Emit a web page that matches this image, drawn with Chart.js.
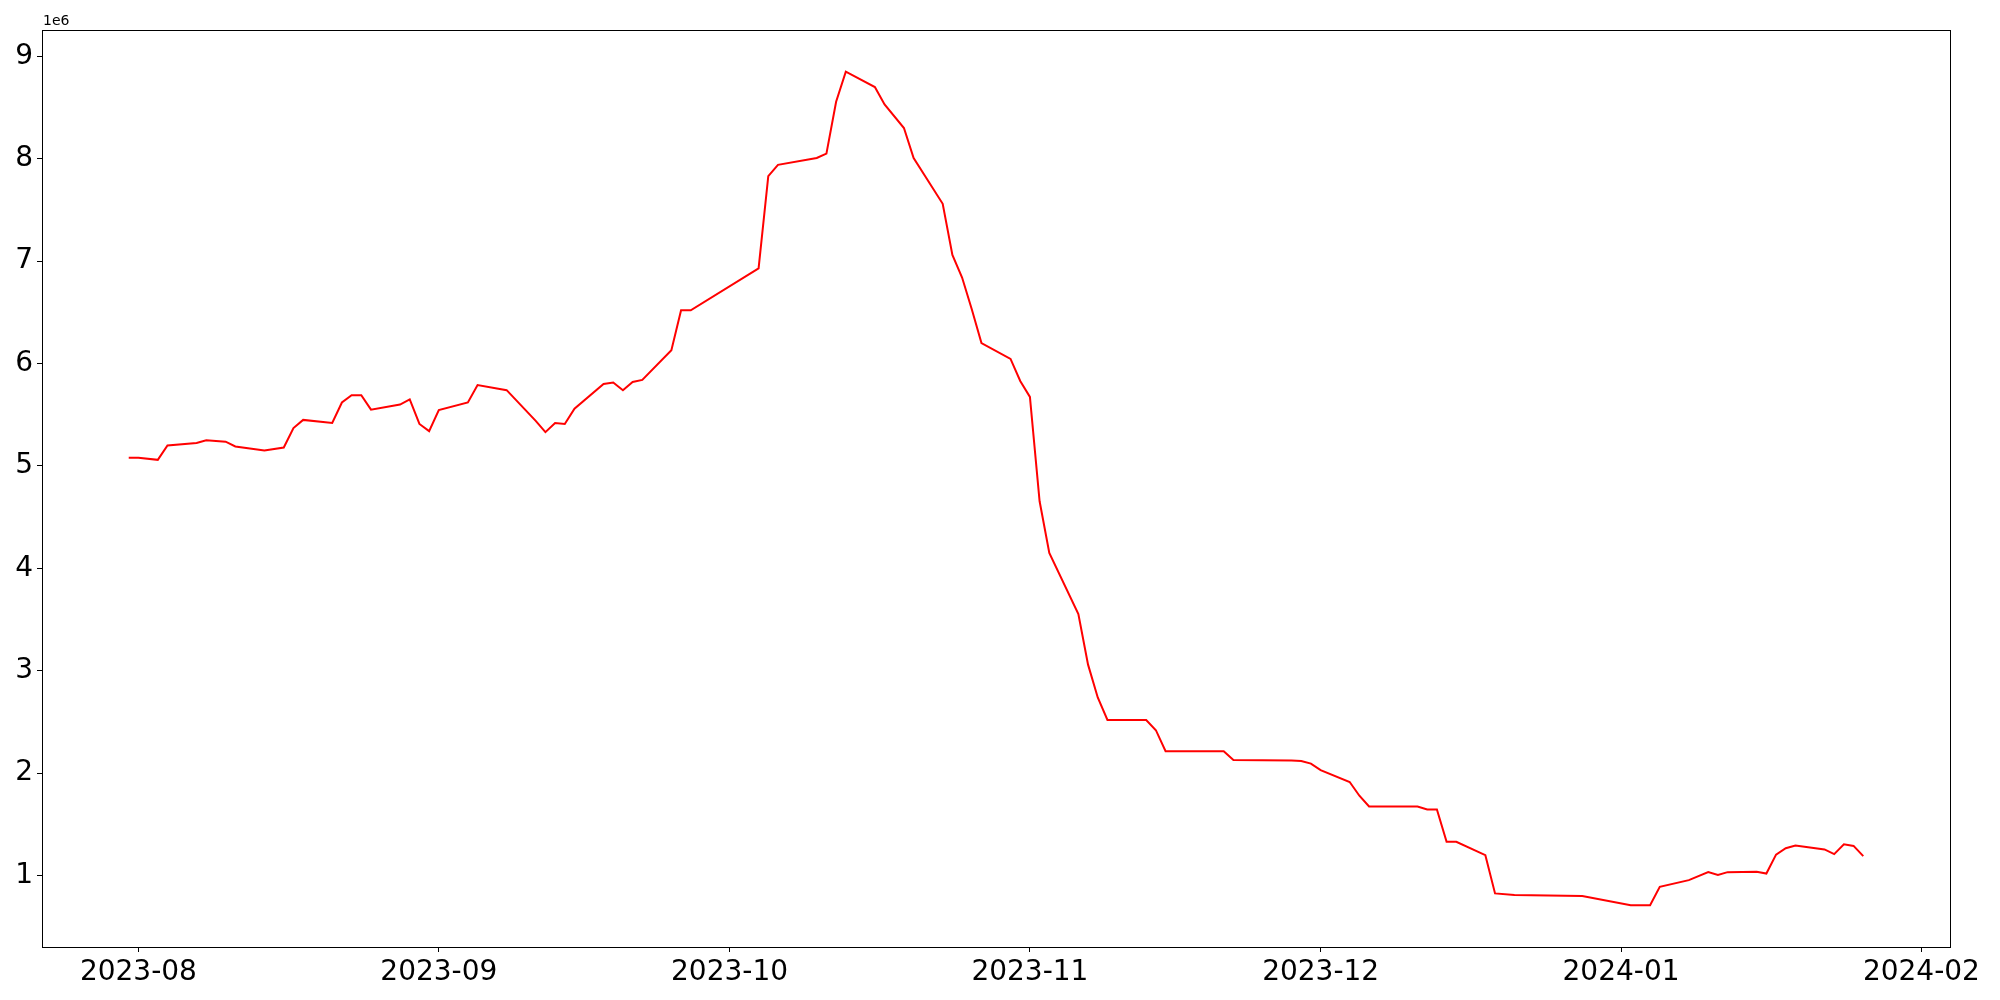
<!DOCTYPE html>
<html>
<head>
<meta charset="utf-8">
<script src="https://cdn.jsdelivr.net/npm/chart.js@4/dist/chart.umd.min.js"></script>
<style>
    html, body { margin: 0; padding: 0; background: #fff; }
    #wrap { position: relative; width: 2000px; height: 1000px; }
    #offset { position: absolute; left: 43px; top: 12px; font: 14px 'DejaVu Sans', sans-serif; color: #000; }
</style>
</head>
<body>
<div id="wrap">
    <canvas id="lineChart" width="2000" height="1000"></canvas>
    <div id="offset">1e6</div>
</div>
<script>
const dates = [
    '2023-07-31', '2023-08-01', '2023-08-03', '2023-08-04', '2023-08-07', '2023-08-08', '2023-08-10', '2023-08-11',
    '2023-08-14', '2023-08-16', '2023-08-17', '2023-08-18', '2023-08-21', '2023-08-22', '2023-08-23', '2023-08-24',
    '2023-08-25', '2023-08-28', '2023-08-29', '2023-08-30', '2023-08-31', '2023-09-01', '2023-09-04', '2023-09-05',
    '2023-09-08', '2023-09-11', '2023-09-12', '2023-09-13', '2023-09-14', '2023-09-15', '2023-09-18', '2023-09-19',
    '2023-09-20', '2023-09-21', '2023-09-22', '2023-09-25', '2023-09-26', '2023-09-27', '2023-10-04', '2023-10-05',
    '2023-10-06', '2023-10-10', '2023-10-11', '2023-10-12', '2023-10-13', '2023-10-16', '2023-10-17', '2023-10-19',
    '2023-10-20', '2023-10-23', '2023-10-24', '2023-10-25', '2023-10-26', '2023-10-27', '2023-10-30', '2023-10-31',
    '2023-11-01', '2023-11-02', '2023-11-03', '2023-11-06', '2023-11-07', '2023-11-08', '2023-11-09', '2023-11-13',
    '2023-11-14', '2023-11-15', '2023-11-21', '2023-11-22', '2023-11-28', '2023-11-29', '2023-11-30', '2023-12-01',
    '2023-12-04', '2023-12-05', '2023-12-06', '2023-12-11', '2023-12-12', '2023-12-13', '2023-12-14', '2023-12-15',
    '2023-12-18', '2023-12-19', '2023-12-21', '2023-12-28', '2024-01-02', '2024-01-04', '2024-01-05', '2024-01-08',
    '2024-01-10', '2024-01-11', '2024-01-12', '2024-01-15', '2024-01-16', '2024-01-17', '2024-01-18', '2024-01-19',
    '2024-01-22', '2024-01-23', '2024-01-24', '2024-01-25', '2024-01-26'
];
const values = [
    5080000, 5080000, 5060000, 5200000, 5225000, 5250000, 5237000, 5190000,
    5150000, 5180000, 5370000, 5450000, 5420000, 5620000, 5690000, 5690000,
    5550000, 5600000, 5650000, 5410000, 5340000, 5545000, 5620000, 5790000,
    5740000, 5440000, 5330000, 5420000, 5410000, 5560000, 5800000, 5815000,
    5740000, 5820000, 5840000, 6130000, 6520000, 6520000, 6930000, 7830000,
    7940000, 8007000, 8050000, 8556000, 8850000, 8700000, 8530000, 8300000,
    8007000, 7560000, 7060000, 6840000, 6530000, 6200000, 6045000, 5830000,
    5674000, 4655000, 4150000, 3554000, 3060000, 2740000, 2520000, 2520000,
    2420000, 2214000, 2214000, 2128000, 2125000, 2120000, 2094000, 2030000,
    1914000, 1780000, 1675000, 1675000, 1645000, 1645000, 1330000, 1330000,
    1200000, 826000, 810000, 800000, 710000, 710000, 890000, 956000,
    1034000, 1007000, 1034000, 1037000, 1020000, 1205000, 1267000, 1293000,
    1256000, 1210000, 1305000, 1290000, 1190000
];
const monthTicks = ['2023-08', '2023-09', '2023-10', '2023-11', '2023-12', '2024-01', '2024-02'];
const yTicks = [1, 2, 3, 4, 5, 6, 7, 8, 9];

function toDay(s) {
    const p = s.split('-').map(Number);
    return Date.UTC(p[0], p[1] - 1, p[2] || 1) / 86400000;
}

const xs = dates.map(toDay);
const points = xs.map((x, i) => ({ x: x, y: values[i] }));

// matplotlib style 5% margins
const xMinD = Math.min(...xs), xMaxD = Math.max(...xs);
const yMinD = Math.min(...values), yMaxD = Math.max(...values);
const xPad = (xMaxD - xMinD) * 0.05, yPad = (yMaxD - yMinD) * 0.05;

const tickFont = { family: 'DejaVu Sans', size: 28 };

const frame = {
    id: 'frame',
    afterDraw(chart) {
        const a = chart.chartArea, c = chart.ctx;
        c.save();
        c.strokeStyle = '#000';
        c.lineWidth = 1;
        c.strokeRect(Math.round(a.left) + 0.5, Math.round(a.top) + 0.5, Math.round(a.right - a.left), Math.round(a.bottom - a.top));
        c.restore();
    }
};

new Chart(document.getElementById('lineChart').getContext('2d'), {
    type: 'line',
    data: {
        datasets: [{
            data: points,
            borderColor: '#ff0000',
            borderWidth: 2,
            pointRadius: 0,
            tension: 0,
            fill: false
        }]
    },
    options: {
        responsive: false,
        animation: false,
        devicePixelRatio: 1,
        layout: { padding: { top: 30, right: 50, left: 0, bottom: 0 } },
        plugins: { legend: { display: false }, tooltip: { enabled: false } },
        scales: {
            x: {
                type: 'linear',
                min: xMinD - xPad,
                max: xMaxD + xPad,
                afterBuildTicks: s => { s.ticks = monthTicks.map(m => ({ value: toDay(m + '-01') })); },
                afterFit: s => { s.height = 53; },
                ticks: {
                    autoSkip: false,
                    maxRotation: 0,
                    color: '#000',
                    font: tickFont,
                    padding: 4,
                    callback: (v, i) => monthTicks[i]
                },
                grid: { drawOnChartArea: false, drawTicks: true, tickLength: 5, color: '#000' },
                border: { display: true, color: '#000', width: 1 }
            },
            y: {
                type: 'linear',
                min: yMinD - yPad,
                max: yMaxD + yPad,
                afterBuildTicks: s => { s.ticks = yTicks.map(v => ({ value: v * 1e6 })); },
                afterFit: s => { s.width = 42; },
                ticks: {
                    color: '#000',
                    font: tickFont,
                    padding: 4,
                    callback: v => String(v / 1e6)
                },
                grid: { drawOnChartArea: false, drawTicks: true, tickLength: 5, color: '#000' },
                border: { display: true, color: '#000', width: 1 }
            }
        }
    },
    plugins: [frame]
});
</script>
</body>
</html>
